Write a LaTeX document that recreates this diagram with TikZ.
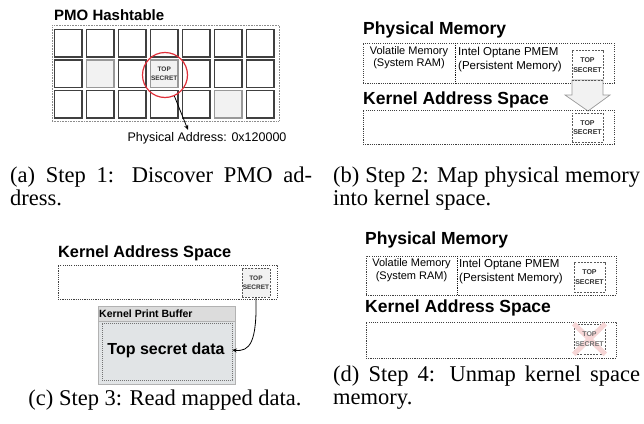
\documentclass[tikz,border=0pt]{standalone}
\usepackage{fontspec}
\setmainfont{Liberation Serif}
\setsansfont{Liberation Sans}
\usetikzlibrary{arrows.meta}
\definecolor{cellfill}{HTML}{F2F2F2}
\definecolor{buffill}{HTML}{E1E4E6}
\definecolor{hdrfill}{HTML}{DCDCDC}
\definecolor{circred}{HTML}{E0303A}
\definecolor{xpink}{HTML}{F6D6D6}
\newcommand{\rnode}[6]{\node[#2, inner sep=0pt, minimum width={(#5-#3)*1pt}, minimum height={(#6-#4)*1pt}] (#1) at ({(#3+#5)/2},{(#4+#6)/2}) {};}
\tikzset{
  dotbox/.style={draw=black!75, dash pattern=on 1.1pt off 1.1pt, line width=0.7pt, rectangle},
  divline/.style={draw=black!90, dash pattern=on 1pt off 0.8pt, line width=1pt},
  tsbox/.style={draw=black!65, dash pattern=on 2pt off 1.2pt, line width=0.7pt, rectangle},
  tstext/.style={font=\sffamily\bfseries\fontsize{7}{9.5}\selectfont, text=black!80, align=center, inner sep=0pt},
  cell/.style={draw=black!75, line width=1.1pt, fill=white, rectangle},
  gcell/.style={draw=black!40, line width=1.1pt, fill=cellfill, rectangle},
  title/.style={font=\sffamily\bfseries\fontsize{17.5}{20}\selectfont, anchor=west, inner sep=0pt},
  memtext/.style={font=\sffamily\fontsize{11}{12.5}\selectfont, inner sep=0pt},
  caption/.style={font=\fontsize{22.5}{23}\selectfont, inner sep=0pt, anchor=north west, text width=302pt, align=justify},
}
\begin{document}
\begin{tikzpicture}[x=1pt,y=-1pt]
\useasboundingbox (0,0) rectangle (644,423);

% ---------------- (a) ----------------
\node[font=\sffamily\bfseries\fontsize{15}{17}\selectfont, anchor=west, inner sep=0pt] (pmotitle) at (54,15) {PMO Hashtable};
\rnode{pmobox}{draw=black!45, dash pattern=on 0.8pt off 0.8pt, line width=0.6pt}{52}{25}{279}{121}
\foreach \i in {0,...,6}{
  \foreach \j in {0,1,2}{
    \pgfmathsetmacro{\xa}{54.5+32*\i}
    \pgfmathsetmacro{\ya}{29.5+30.5*\j}
    \rnode{c\i\j}{cell}{\xa}{\ya}{\xa+27.5}{\ya+27.5}
  }
}
\rnode{c11}{gcell}{86.5}{60}{114}{87.5}
\rnode{c31}{gcell}{150.5}{60}{178}{87.5}
\rnode{c52}{gcell}{214.5}{90.5}{242}{118}
\node[tstext, font=\sffamily\bfseries\fontsize{6.5}{9}\selectfont] (tsa) at (c31) {TOP\\SECRET};
\node[draw=circred, line width=1.2pt, circle, minimum size=45pt, inner sep=0pt] (circ) at (165,75) {};
\node[font=\sffamily\fontsize{12.5}{14}\selectfont, inner sep=0pt] (addr) at (207,138) {Physical Address: 0x120000};
\coordinate (addrtip) at (188,130);
\draw[line width=0.8pt, -{Stealth[length=5pt,width=4pt]}] (circ.-66) -- (addrtip);

\node[caption] (capa) at (10,167) {(a) Step 1: Discover PMO ad-\linebreak dress.};

% ---------------- (b) ----------------
\node[title] (pmtb) at (363,30) {Physical Memory};
\rnode{pmb}{dotbox}{363}{43}{614}{83}
\coordinate (divbt) at (455,43);
\coordinate (divbb) at (455,83);
\draw[divline] (divbt) -- (divbb);
\node[memtext, align=center] (volb) at (409,57.5) {Volatile Memory\\(System RAM)};
\node[memtext, font=\sffamily\fontsize{11.5}{14}\selectfont, align=left, anchor=west] (intb) at (458,60) {Intel Optane PMEM\\(Persistent Memory)};
% hollow arrow
\draw[draw=black!40, fill=cellfill, line width=0.7pt] (572,80) -- (603,80) -- (603,95) -- (610,95) -- (588,111) -- (565,95) -- (572,95) -- cycle;
\rnode{tsb1}{tsbox}{572}{50}{603}{80}
\node[tstext] (tsb1t) at (tsb1) {TOP\\SECRET};
\node[title] (kastb) at (363,100) {Kernel Address Space};
\rnode{kasb}{dotbox}{363}{110}{614}{144}
\rnode{tsb2}{tsbox}{572}{113}{603}{142}
\node[tstext] (tsb2t) at (tsb2) {TOP\\SECRET};

\node[caption, text width=307pt] (capb) at (333,167) {(b) Step 2: Map physical memory\linebreak into kernel space.};

% ---------------- (c) ----------------
\node[title, font=\sffamily\bfseries\fontsize{16.3}{19}\selectfont] (kastc) at (58,253) {Kernel Address Space};
\rnode{kasc}{dotbox}{58}{265}{277}{299}
\rnode{tsc}{tsbox, fill=cellfill}{242}{268}{270}{297}
\node[tstext, font=\sffamily\bfseries\fontsize{6.5}{9}\selectfont] (tsct) at (tsc) {TOP\\SECRET};
\rnode{buf}{draw=black!30, line width=0.7pt, fill=buffill}{98}{306}{235}{384}
\rnode{bufhdr}{draw=black!30, line width=0.7pt, fill=hdrfill}{98}{306}{235}{321}
\rnode{bufbody}{draw=black!55, dash pattern=on 1.2pt off 0.8pt, line width=0.6pt, fill=buffill}{102}{323}{232}{380}
\node[font=\sffamily\bfseries\fontsize{10.5}{12}\selectfont, anchor=west, inner sep=0pt] (bufname) at (99,313.5) {Kernel Print Buffer};
\node[font=\sffamily\bfseries\fontsize{16}{18}\selectfont, inner sep=0pt] (tsd) at (166,350) {Top secret data};
\draw[line width=0.8pt, -{Stealth[length=4.5pt,width=4pt]}] (tsc.south) .. controls (257,342) and (250,352) .. (bufbody.east |- tsd);

\node[font=\fontsize{22.5}{23}\selectfont, inner sep=0pt, anchor=base] (capc) at (165,405) {(c) Step 3: Read mapped data.};

% ---------------- (d) ----------------
\node[title] (pmtd) at (365,240) {Physical Memory};
\rnode{pmd}{dotbox}{366}{256}{616}{295}
\coordinate (divdt) at (457,256);
\coordinate (divdb) at (457,295);
\draw[divline] (divdt) -- (divdb);
\node[memtext, align=center] (vold) at (411.5,270) {Volatile Memory\\(System RAM)};
\node[memtext, font=\sffamily\fontsize{11.5}{13.5}\selectfont, align=left, anchor=west] (intd) at (459,271.5) {Intel Optane PMEM\\(Persistent Memory)};
\rnode{tsd1}{tsbox}{574}{262}{605}{292}
\node[tstext] (tsd1t) at (tsd1) {TOP\\SECRET};
\node[title] (kastd) at (365,308) {Kernel Address Space};
\rnode{kasd}{dotbox}{366}{322}{616}{358}
\rnode{tsd2}{tsbox}{574}{324}{605}{354}
\draw[xpink, line width=5pt] (tsd2.north west) -- (tsd2.south east);
\draw[xpink, line width=5pt] (tsd2.north east) -- (tsd2.south west);
\node[tstext, text=black!55] (tsd2t) at (tsd2) {TOP\\SECRET};

\node[caption, text width=307pt] (capd) at (333,366) {(d) Step 4: Unmap kernel space\linebreak memory.};
\end{tikzpicture}
\end{document}
